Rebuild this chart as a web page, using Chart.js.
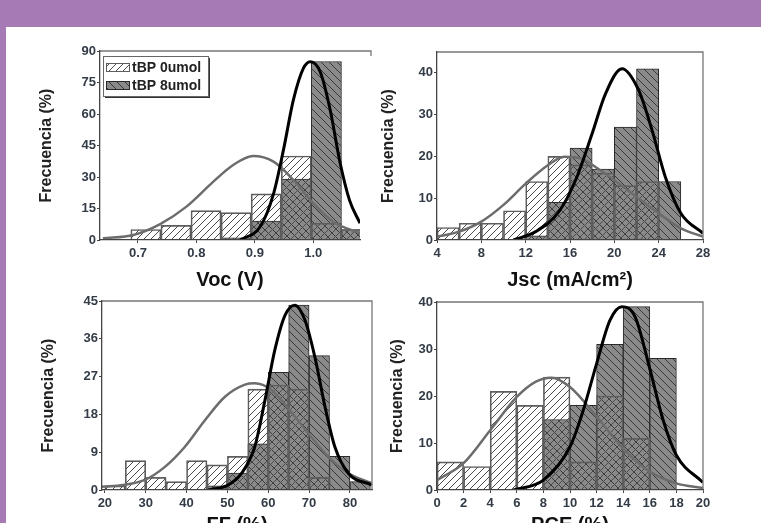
<!DOCTYPE html>
<html>
<head>
<meta charset="utf-8">
<script src="https://cdn.jsdelivr.net/npm/chart.js@4/dist/chart.umd.min.js"></script>
<style>
	body { margin: 0; width: 761px; height: 523px; overflow: hidden; background: #fff; position: relative; }
	.banda { position: absolute; left: 0; top: 0; width: 761px; height: 27px; background: #a57ab5; }
	.franja { position: absolute; left: 0; top: 0; width: 6px; height: 523px; background: #a57ab5; }
	canvas { position: absolute; }
</style>
</head>
<body>
<div class="banda"></div>
<div class="franja"></div>
<canvas id="voc" width="374" height="268" style="left:6px;top:27px"></canvas>
<canvas id="jsc" width="391" height="268" style="left:370px;top:27px"></canvas>
<canvas id="ff" width="374" height="260" style="left:6px;top:288px"></canvas>
<canvas id="pce" width="391" height="260" style="left:370px;top:288px"></canvas>
<script>
// Datos (histogramas + ajustes)
const series = ['tBP 0umol', 'tBP 8umol'];

// Voc (V)
const vocBins = [0.7135, 0.765, 0.8165, 0.868, 0.9195, 0.971, 1.0225, 1.074];
const voc0 = [5, 7, 14, 13, 22, 40, 8, 5];
const voc8 = [0, 0, 0, 1, 9, 29, 85, 5];
const vocFit0X = [0.64, 0.692, 0.738, 0.783, 0.829, 0.863, 0.897, 0.932, 0.966, 1.0, 1.034, 1.08];
const vocFit0Y = [0.8, 2.4, 7.6, 15.9, 27.8, 35.7, 40, 37.3, 28.6, 17.5, 8.7, 3.2];
const vocFit8X = [0.875, 0.909, 0.932, 0.949, 0.966, 0.983, 0.995, 1.012, 1.029, 1.045, 1.062, 1.08];
const vocFit8Y = [0, 6.3, 22, 42.9, 66.7, 81.7, 84.9, 80, 61.9, 38, 19, 8];

// Jsc (mA/cm2)
const jscBins = [5, 7, 9, 11, 13, 15, 17, 19, 21, 23, 25];
const jsc0 = [3, 4, 4, 7, 14, 20, 18, 16, 13, 14, 0];
const jsc8 = [0, 0, 0, 0, 1, 9, 22, 17, 27, 41, 14];
const jscFit0X = [4, 6, 8, 10, 12, 14, 15.5, 17, 18.5, 20, 22, 24, 26, 28];
const jscFit0Y = [0.8, 2, 4.4, 8.4, 13.5, 17.9, 19.9, 19.5, 17.1, 14.3, 10.3, 6.4, 2.8, 0.8];
const jscFit8X = [10.9, 12.9, 15, 16.5, 18, 19.2, 20.7, 22.2, 23.4, 24.6, 26, 28];
const jscFit8Y = [0, 2, 6.8, 14.3, 25.5, 35, 41, 35.8, 26.3, 15.1, 6.4, 1.6];

// FF (%)
const ffBins = [22.5, 27.5, 32.5, 37.5, 42.5, 47.5, 52.5, 57.5, 62.5, 67.5, 72.5, 77.5, 82.5];
const ff0 = [1, 7, 3, 2, 7, 6, 8, 24, 25, 24, 3, 0, 0];
const ff8 = [0, 0, 0, 0, 0, 1, 4, 11, 28, 44, 32, 8, 2];
const ffFit0X = [19.3, 24.5, 29.8, 34.7, 39.6, 44.5, 49.4, 54.3, 56.7, 60.8, 64.9, 69.8, 74.7, 79.6, 85.3];
const ffFit0Y = [0.8, 1.2, 2.4, 5.5, 10.3, 16.6, 22.2, 25.1, 25.4, 23.8, 19.4, 13.5, 7.9, 4, 1.6];
const ffFit8X = [45.3, 50.2, 53.5, 56.7, 59.2, 61.6, 64.1, 66.5, 69, 71.4, 73.9, 76.3, 79.6, 85.3];
const ffFit8Y = [0, 1.2, 4, 10.3, 21.4, 33.3, 41.6, 44, 40.4, 31.7, 19.8, 10.3, 4, 1.2];

// PCE (%)
const pceBins = [1, 3, 5, 7, 9, 11, 13, 15, 17];
const pce0 = [6, 5, 21, 18, 24, 6, 20, 11, 0];
const pce8 = [0, 0, 0, 0, 15, 18, 31, 39, 28];
const pceFit0X = [0, 2, 4, 6, 7.4, 8.6, 10, 12, 14, 16, 18, 20];
const pceFit0Y = [2.1, 5.7, 12.7, 19.8, 23, 23.9, 21.9, 15.6, 8.8, 3.9, 1.4, 0.4];
const pceFit8X = [5.75, 8, 10, 11, 12, 13, 13.9, 14.9, 16, 17, 18, 20];
const pceFit8Y = [0, 2.1, 9.2, 17, 26.9, 36.1, 39, 36.8, 25.8, 14.9, 7.4, 1.6];

const FUENTE = '"Liberation Sans", Arial, sans-serif';

// rayado diagonal: dir 1 = '/', dir -1 = '\'
function rayado(fondo, linea, dir, s) {
	const c = document.createElement('canvas');
	c.width = s; c.height = s;
	const g = c.getContext('2d');
	if (fondo) { g.fillStyle = fondo; g.fillRect(0, 0, s, s); }
	g.strokeStyle = linea;
	g.lineWidth = 1;
	g.beginPath();
	if (dir > 0) {
		g.moveTo(0, s); g.lineTo(s, 0);
		g.moveTo(-1, 1); g.lineTo(1, -1);
		g.moveTo(s - 1, s + 1); g.lineTo(s + 1, s - 1);
	} else {
		g.moveTo(0, 0); g.lineTo(s, s);
		g.moveTo(-1, s - 1); g.lineTo(1, s + 1);
		g.moveTo(s - 1, -1); g.lineTo(s + 1, 1);
	}
	g.stroke();
	return g.createPattern(c, 'repeat');
}

const patClaro = rayado(null, '#4c4c4c', 1, 7);
const patOscuro = rayado('#8a8a8a', '#383838', -1, 8);

const puntos = (xs, ys) => xs.map((x, i) => ({ x: x, y: ys[i] }));

// marco superior/derecho del area
const marco = {
	id: 'marco',
	afterDatasetsDraw(chart, args, opts) {
		const { ctx, chartArea: a } = chart;
		ctx.save();
		ctx.strokeStyle = '#777';
		ctx.lineWidth = 1.3;
		ctx.beginPath();
		if (opts.extra) {
			ctx.moveTo(a.left, a.top);
			ctx.lineTo(a.right + opts.extra, a.top);
			ctx.lineTo(a.right + opts.extra, a.top + 5);
		} else {
			ctx.moveTo(a.left, a.top);
			ctx.lineTo(a.right, a.top);
			ctx.lineTo(a.right, a.bottom);
		}
		ctx.stroke();
		ctx.restore();
	}
};

// leyenda con sombra dentro del area (solo Voc)
const leyenda = {
	id: 'leyenda',
	afterDraw(chart, args, opts) {
		if (!opts.mostrar) return;
		const { ctx, chartArea: a } = chart;
		const x = a.left + 3, y = a.top + 5, w = 105, h = 40;
		ctx.save();
		ctx.fillStyle = '#333';
		ctx.fillRect(x + 2, y + 2, w, h);
		ctx.fillStyle = '#fff';
		ctx.fillRect(x, y, w, h);
		ctx.strokeStyle = '#666';
		ctx.lineWidth = 1;
		ctx.strokeRect(x + 0.5, y + 0.5, w, h);
		const barras = chart.data.datasets.filter(d => d.label);
		barras.forEach((d, i) => {
			const cy = y + 11 + i * 18;
			ctx.fillStyle = d.backgroundColor;
			ctx.fillRect(x + 3, cy - 4, 23, 8);
			ctx.strokeStyle = d.borderColor;
			ctx.strokeRect(x + 3.5, cy - 3.5, 23, 8);
			ctx.fillStyle = '#222';
			ctx.font = 'bold 14px ' + FUENTE;
			ctx.textBaseline = 'middle';
			ctx.fillText(d.label, x + 29, cy + 1);
		});
		ctx.restore();
	}
};

function grafico(id, caja, area, c) {
	const yTitulo = 16, xTitulo = 20;
	const padTop = area.t - caja.y;
	const padRight = caja.x + caja.w - area.r;
	const anchoY = area.l - caja.x;
	const altoX = caja.y + caja.h - area.b;
	const padTituloY = c.yTituloX - caja.x - yTitulo * 1.2 / 2;
	const padTituloX = caja.y + caja.h - c.xTituloY - xTitulo * 1.2 / 2;

	const ticks = { font: { family: FUENTE, size: 13, weight: 'bold' }, color: '#333b46' };

	new Chart(document.getElementById(id), {
		type: 'bar',
		data: {
			datasets: [
				{ type: 'line', data: puntos(c.fit8X, c.fit8Y), borderColor: '#000', borderWidth: 3, pointRadius: 0, cubicInterpolationMode: 'monotone', order: 0 },
				{ type: 'line', data: puntos(c.fit0X, c.fit0Y), borderColor: '#6c6c6c', borderWidth: 2.5, pointRadius: 0, cubicInterpolationMode: 'monotone', order: 1 },
				{ label: series[0], data: puntos(c.bins, c.h0), backgroundColor: patClaro, borderColor: '#5e5e5e', borderWidth: 1, grouped: false, barPercentage: 1, categoryPercentage: 1, order: 2 },
				{ label: series[1], data: puntos(c.bins, c.h8), backgroundColor: patOscuro, borderColor: '#2a2a2a', borderWidth: 1, grouped: false, barPercentage: 1, categoryPercentage: 1, order: 3 }
			]
		},
		options: {
			responsive: false,
			animation: false,
			layout: { padding: { left: 0, top: padTop, right: padRight, bottom: 0 } },
			plugins: {
				legend: { display: false },
				tooltip: { enabled: false },
				marco: { extra: c.extra || 0 },
				leyenda: { mostrar: !!c.leyenda }
			},
			scales: {
				x: {
					type: 'linear',
					offset: false,
					min: c.xMin, max: c.xMax,
					ticks: Object.assign({}, ticks, {
						stepSize: c.xStep, includeBounds: false, autoSkip: false, maxRotation: 0, padding: 3,
						callback: c.xFmt || (v => v)
					}),
					grid: { offset: false, drawOnChartArea: false, tickLength: 3, color: '#444' },
					border: { color: '#444', width: 1.3, z: 1 },
					title: { display: true, text: c.xTitulo, color: '#111', font: { family: FUENTE, size: xTitulo, weight: 'bold' }, padding: { top: 0, bottom: padTituloX } },
					afterFit: s => { s.height = altoX; s.paddingLeft = 0; s.paddingRight = 0; }
				},
				y: {
					min: 0, max: c.yMax,
					ticks: Object.assign({}, ticks, { stepSize: c.yStep, includeBounds: false, padding: 1 }),
					grid: { drawOnChartArea: false, tickLength: 3, color: '#444' },
					border: { color: '#444', width: 1.3, z: 1 },
					title: { display: true, text: 'Frecuencia (%)', color: '#222', font: { family: FUENTE, size: yTitulo, weight: 'bold' }, padding: { top: padTituloY, bottom: 0 } },
					afterFit: s => { s.width = anchoY; s.paddingTop = 0; s.paddingBottom = 0; }
				}
			}
		},
		plugins: [marco, leyenda]
	});
}

grafico('voc', { x: 6, y: 27, w: 374, h: 268 }, { l: 100, t: 51, r: 360, b: 240 }, {
	bins: vocBins, h0: voc0, h8: voc8, fit0X: vocFit0X, fit0Y: vocFit0Y, fit8X: vocFit8X, fit8Y: vocFit8Y,
	xMin: 0.635, xMax: 1.08, xStep: 0.1, xFmt: v => v.toFixed(1), yMax: 90, yStep: 15,
	xTitulo: 'Voc (V)', yTituloX: 46.7, xTituloY: 280.8, extra: 11, leyenda: true
});

grafico('jsc', { x: 370, y: 27, w: 391, h: 268 }, { l: 437, t: 52, r: 703, b: 240 }, {
	bins: jscBins, h0: jsc0, h8: jsc8, fit0X: jscFit0X, fit0Y: jscFit0Y, fit8X: jscFit8X, fit8Y: jscFit8Y,
	xMin: 4, xMax: 28, xStep: 4, yMax: 45, yStep: 10,
	xTitulo: 'Jsc (mA/cm²)', yTituloX: 388.5, xTituloY: 280
});

grafico('ff', { x: 6, y: 288, w: 374, h: 260 }, { l: 102, t: 301, r: 372, b: 490 }, {
	bins: ffBins, h0: ff0, h8: ff8, fit0X: ffFit0X, fit0Y: ffFit0Y, fit8X: ffFit8X, fit8Y: ffFit8Y,
	xMin: 19.3, xMax: 85.4, xStep: 10, yMax: 45, yStep: 9,
	xTitulo: 'FF (%)', yTituloX: 48.5, xTituloY: 525.6
});

grafico('pce', { x: 370, y: 288, w: 391, h: 260 }, { l: 437, t: 302, r: 703, b: 490 }, {
	bins: pceBins, h0: pce0, h8: pce8, fit0X: pceFit0X, fit0Y: pceFit0Y, fit8X: pceFit8X, fit8Y: pceFit8Y,
	xMin: 0, xMax: 20, xStep: 2, yMax: 40, yStep: 10,
	xTitulo: 'PCE (%)', yTituloX: 398, xTituloY: 525.6
});
</script>
</body>
</html>
